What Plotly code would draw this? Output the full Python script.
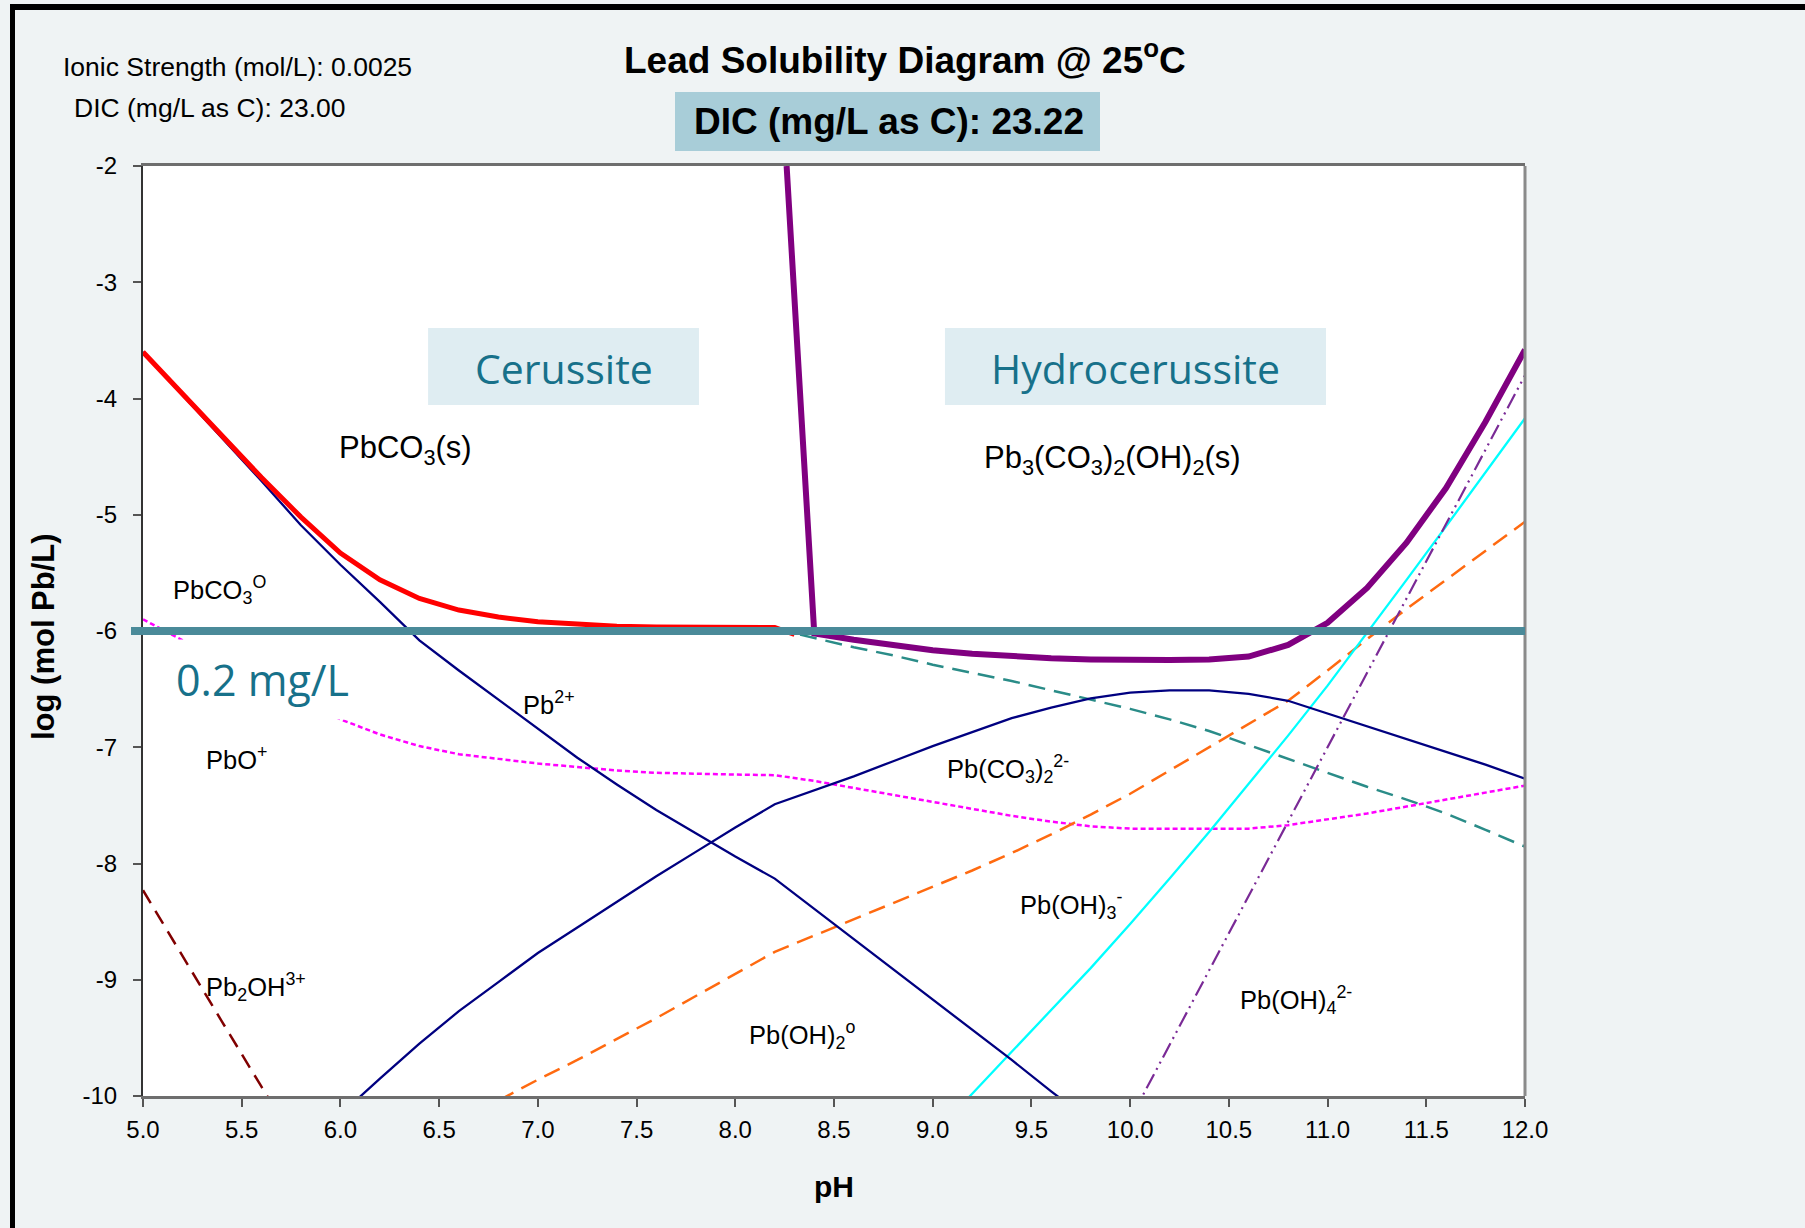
import plotly.graph_objects as go

# ---------------- data ----------------
ph_cerussite = [5.0, 5.2, 5.4, 5.6, 5.8, 6.0, 6.2, 6.4, 6.6, 6.8, 7.0, 7.2, 7.4, 7.6, 7.8, 8.0, 8.2, 8.3]
log_cerussite = [-3.60, -3.96, -4.33, -4.68, -5.02, -5.33, -5.56, -5.72, -5.82, -5.88, -5.92, -5.945,
                 -5.96, -5.965, -5.97, -5.97, -5.97, -6.03]

ph_hydrocerussite = [8.26, 8.40, 8.6, 8.8, 9.0, 9.2, 9.4, 9.6, 9.8, 10.0, 10.2, 10.4, 10.6, 10.8, 11.0,
                     11.2, 11.4, 11.6, 11.8, 12.0]
log_hydrocerussite = [-2.0, -6.02, -6.075, -6.125, -6.165, -6.195, -6.22, -6.235, -6.245, -6.25, -6.25,
                      -6.245, -6.22, -6.12, -5.93, -5.63, -5.24, -4.77, -4.20, -3.58]

ph_pb2 = [5.0, 5.2, 5.4, 5.6, 5.8, 6.0, 6.2, 6.4, 6.6, 6.8, 7.0, 7.2, 7.4, 7.6, 7.8, 8.0, 8.2, 8.4, 8.6,
          8.8, 9.0, 9.2, 9.4, 9.6, 9.8]
log_pb2 = [-3.60, -3.97, -4.34, -4.71, -5.09, -5.43, -5.75, -6.08, -6.34, -6.59, -6.84, -7.09, -7.32,
           -7.54, -7.74, -7.94, -8.13, -8.39, -8.65, -8.91, -9.17, -9.43, -9.69, -9.96, -10.22]

ph_pbco3_2 = [6.0, 6.2, 6.4, 6.6, 6.8, 7.0, 7.2, 7.4, 7.6, 7.8, 8.0, 8.2, 8.4, 8.6, 8.8, 9.0, 9.2, 9.4,
              9.6, 9.8, 10.0, 10.2, 10.4, 10.6, 10.8, 11.0, 11.2, 11.4, 11.6, 11.8, 12.0]
log_pbco3_2 = [-10.16, -9.85, -9.55, -9.27, -9.02, -8.77, -8.55, -8.33, -8.11, -7.90, -7.69, -7.49,
               -7.37, -7.25, -7.12, -6.99, -6.87, -6.75, -6.66, -6.58, -6.53, -6.51, -6.51, -6.54,
               -6.60, -6.71, -6.82, -6.93, -7.04, -7.15, -7.27]

ph_pbco3_aq = [8.2, 8.4, 8.6, 8.8, 9.0, 9.2, 9.4, 9.6, 9.8, 10.0, 10.2, 10.4, 10.6, 10.8, 11.0, 11.2,
               11.4, 11.6, 11.8, 12.0]
log_pbco3_aq = [-5.98, -6.06, -6.14, -6.21, -6.29, -6.36, -6.43, -6.51, -6.59, -6.67, -6.76, -6.86,
                -6.98, -7.10, -7.22, -7.34, -7.45, -7.57, -7.71, -7.855]

ph_pbo = [5.0, 5.2, 5.4, 5.6, 5.8, 6.0, 6.2, 6.4, 6.6, 6.8, 7.0, 7.2, 7.4, 7.6, 7.8, 8.0, 8.2, 8.4, 8.6,
          8.8, 9.0, 9.2, 9.4, 9.6, 9.8, 10.0, 10.2, 10.4, 10.6, 10.8, 11.0, 11.2, 11.4, 11.6, 11.8, 12.0]
log_pbo = [-5.90, -6.08, -6.26, -6.43, -6.60, -6.76, -6.89, -6.99, -7.06, -7.10, -7.14, -7.17, -7.20,
           -7.22, -7.23, -7.235, -7.24, -7.29, -7.35, -7.41, -7.47, -7.53, -7.59, -7.64, -7.68, -7.70,
           -7.70, -7.70, -7.70, -7.67, -7.62, -7.57, -7.51, -7.45, -7.39, -7.33]

ph_pboh2 = [6.8, 7.0, 7.2, 7.4, 7.6, 7.8, 8.0, 8.2, 8.4, 8.6, 8.8, 9.0, 9.2, 9.4, 9.6, 9.8, 10.0, 10.2,
            10.4, 10.6, 10.8, 11.0, 11.2, 11.4, 11.6, 11.8, 12.0]
log_pboh2 = [-10.04, -9.86, -9.69, -9.51, -9.33, -9.14, -8.95, -8.76, -8.62, -8.48, -8.34, -8.20, -8.06,
             -7.91, -7.75, -7.58, -7.40, -7.20, -7.00, -6.80, -6.60, -6.34, -6.07, -5.81, -5.56, -5.31,
             -5.06]

ph_pboh3 = [9.0, 9.2, 9.4, 9.6, 9.8, 10.0, 10.2, 10.4, 10.6, 10.8, 11.0, 11.2, 11.4, 11.6, 11.8, 12.0]
log_pboh3 = [-10.35, -9.98, -9.62, -9.26, -8.90, -8.52, -8.13, -7.73, -7.32, -6.90, -6.47, -6.02,
             -5.56, -5.10, -4.64, -4.17]

ph_pboh4 = [10.0, 10.2, 10.4, 10.6, 10.8, 11.0, 11.2, 11.4, 11.6, 11.8, 12.0]
log_pboh4 = [-10.20, -9.56, -8.92, -8.29, -7.65, -7.01, -6.37, -5.73, -5.09, -4.45, -3.80]

ph_pb2oh = [5.0, 5.2, 5.4, 5.6, 5.8]
log_pb2oh = [-8.23, -8.80, -9.36, -9.92, -10.48]

limit_log = -6.0          # 0.2 mg/L action line
x_ticks = [5.0, 5.5, 6.0, 6.5, 7.0, 7.5, 8.0, 8.5, 9.0, 9.5, 10.0, 10.5, 11.0, 11.5, 12.0]
x_ticktext = ["5.0", "5.5", "6.0", "6.5", "7.0", "7.5", "8.0", "8.5", "9.0", "9.5", "10.0", "10.5",
              "11.0", "11.5", "12.0"]
y_ticks = [-2, -3, -4, -5, -6, -7, -8, -9, -10]
y_ticktext = ["-2", "-3", "-4", "-5", "-6", "-7", "-8", "-9", "-10"]

# ---------------- figure ----------------
W, H = 1805, 1228
L, R, T, B = 143, 280, 166, 132
PW, PH = W - L - R, H - T - B


def px(xp):
    return (xp - L) / PW


def py(yp):
    return (H - B - yp) / PH


ARIAL = "Liberation Sans, Arial, sans-serif"
CAL = "Open Sans, Noto Sans, sans-serif"
SP = 25.5

fig = go.Figure()

series = [
    (ph_pbo, log_pbo, "#FF00FF", 2.5, "5px,3px"),
    (ph_pboh2, log_pboh2, "#FF6A10", 2.5, "17px,9px"),
    (ph_pbco3_aq, log_pbco3_aq, "#2A8C88", 2.5, "17px,9px"),
    (ph_pb2oh, log_pb2oh, "#800000", 2.5, "15px,9px"),
    (ph_pboh3, log_pboh3, "#00FFFF", 2.3, "solid"),
    (ph_pboh4, log_pboh4, "#7A2A96", 2.2, "16px,5px,2px,5px,2px,5px"),
    (ph_pbco3_2, log_pbco3_2, "#000080", 2.3, "solid"),
    (ph_pb2, log_pb2, "#000080", 2.3, "solid"),
    (ph_cerussite, log_cerussite, "#FF0000", 5, "solid"),
    (ph_hydrocerussite, log_hydrocerussite, "#800080", 6, "solid"),
]
for xs, ys, col, w, dash in series:
    fig.add_trace(go.Scatter(x=xs, y=ys, mode="lines", showlegend=False, hoverinfo="skip",
                             line=dict(color=col, width=w, dash=dash)))

shapes = [
    # slide borders
    dict(type="rect", xref="paper", yref="paper", x0=px(10), x1=px(15), y0=py(H), y1=py(4),
         fillcolor="black", line=dict(width=0), layer="above"),
    dict(type="rect", xref="paper", yref="paper", x0=px(10), x1=px(W), y0=py(10), y1=py(4),
         fillcolor="black", line=dict(width=0), layer="above"),
    # right border of plot
    dict(type="line", xref="paper", yref="paper", x0=1, x1=1, y0=0, y1=1,
         line=dict(color="#8A8A8A", width=3), layer="above"),
    # 0.2 mg/L line
    dict(type="line", xref="paper", yref="y", x0=px(131), x1=1, y0=limit_log, y1=limit_log,
         line=dict(color="#4A8A99", width=8), layer="above"),
    # mineral name boxes
    dict(type="rect", xref="x", yref="y", x0=6.444, x1=7.816, y0=-4.056, y1=-3.394,
         fillcolor="#DFEDF2", line=dict(width=0), layer="below"),
    dict(type="rect", xref="x", yref="y", x0=9.062, x1=10.992, y0=-4.056, y1=-3.394,
         fillcolor="#DFEDF2", line=dict(width=0), layer="below"),
    # DIC box
    dict(type="rect", xref="paper", yref="paper", x0=px(675), x1=px(1100), y0=py(151), y1=py(92),
         fillcolor="#A8CDD8", line=dict(width=0)),
]

annots = [
    dict(xref="paper", yref="paper", x=px(905), y=py(57), text="<b>Lead Solubility Diagram @ 25<sup>o</sup>C</b>",
         font=dict(family=ARIAL, size=37, color="black"), xanchor="center", yanchor="middle"),
    dict(xref="paper", yref="paper", x=px(889), y=py(121), text="<b>DIC (mg/L as C): 23.22</b>",
         font=dict(family=ARIAL, size=37, color="black"), xanchor="center", yanchor="middle"),
    dict(xref="paper", yref="paper", x=px(61), y=py(67), text="Ionic Strength (mol/L): 0.0025",
         font=dict(family=ARIAL, size=26.5, color="black"), xanchor="left", yanchor="middle"),
    dict(xref="paper", yref="paper", x=px(72), y=py(108), text="DIC (mg/L as C): 23.00",
         font=dict(family=ARIAL, size=26.5, color="black"), xanchor="left", yanchor="middle"),
    dict(xref="paper", yref="paper", x=px(43), y=0.4935, text="<b>log (mol Pb/L)</b>", textangle=-90,
         font=dict(family=ARIAL, size=31, color="black"), xanchor="center", yanchor="middle"),
    dict(xref="paper", yref="paper", x=0.5, y=py(1186), text="<b>pH</b>",
         font=dict(family=ARIAL, size=30, color="black"), xanchor="center", yanchor="middle"),
    # mineral names
    dict(xref="x", yref="y", x=7.13, y=-3.741, text="Cerussite",
         font=dict(family=CAL, size=41, color="#17718A"), xanchor="center", yanchor="middle"),
    dict(xref="x", yref="y", x=10.027, y=-3.741, text="Hydrocerussite",
         font=dict(family=CAL, size=41, color="#17718A"), xanchor="center", yanchor="middle"),
    dict(xref="x", yref="y", x=5.605, y=-6.42, text="0.2 mg/L", bgcolor="white", borderpad=10,
         font=dict(family=CAL, size=43, color="#17718A"), xanchor="center", yanchor="middle"),
    # solids
    dict(xref="x", yref="y", x=5.983, y=-4.44, text="PbCO<sub>3</sub>(s)",
         font=dict(family=ARIAL, size=31, color="black"), xanchor="left", yanchor="middle"),
    dict(xref="x", yref="y", x=9.25, y=-4.53, text="Pb<sub>3</sub>(CO<sub>3</sub>)<sub>2</sub>(OH)<sub>2</sub>(s)",
         font=dict(family=ARIAL, size=31, color="black"), xanchor="left", yanchor="middle"),
    # species
    dict(xref="x", yref="y", x=5.14, y=-5.65, text="PbCO<sub>3</sub><sup>O</sup>",
         font=dict(family=ARIAL, size=SP, color="black"), xanchor="left", yanchor="middle"),
    dict(xref="x", yref="y", x=5.31, y=-7.09, text="PbO<sup>+</sup>",
         font=dict(family=ARIAL, size=SP, color="black"), xanchor="left", yanchor="middle"),
    dict(xref="x", yref="y", x=6.915, y=-6.62, text="Pb<sup>2+</sup>",
         font=dict(family=ARIAL, size=SP, color="black"), xanchor="left", yanchor="middle"),
    dict(xref="x", yref="y", x=5.31, y=-9.06, text="Pb<sub>2</sub>OH<sup>3+</sup>",
         font=dict(family=ARIAL, size=SP, color="black"), xanchor="left", yanchor="middle"),
    dict(xref="x", yref="y", x=9.062, y=-7.19, text="Pb(CO<sub>3</sub>)<sub>2</sub><sup>2-</sup>",
         font=dict(family=ARIAL, size=SP, color="black"), xanchor="left", yanchor="middle"),
    dict(xref="x", yref="y", x=9.43, y=-8.36, text="Pb(OH)<sub>3</sub><sup>-</sup>",
         font=dict(family=ARIAL, size=SP, color="black"), xanchor="left", yanchor="middle"),
    dict(xref="x", yref="y", x=8.058, y=-9.475, text="Pb(OH)<sub>2</sub><sup>o</sup>",
         font=dict(family=ARIAL, size=SP, color="black"), xanchor="left", yanchor="middle"),
    dict(xref="x", yref="y", x=10.544, y=-9.17, text="Pb(OH)<sub>4</sub><sup>2-</sup>",
         font=dict(family=ARIAL, size=SP, color="black"), xanchor="left", yanchor="middle"),
]
for a in annots:
    a.setdefault("showarrow", False)

fig.update_layout(
    width=W, height=H, margin=dict(l=L, r=R, t=T, b=B, autoexpand=False),
    paper_bgcolor="#EFF3F4", plot_bgcolor="white",
    shapes=shapes, annotations=annots, showlegend=False,
    xaxis=dict(range=[5, 12], tickvals=x_ticks, ticktext=x_ticktext, ticks="outside", ticklen=8,
               tickcolor="#555", tickwidth=1.5, showgrid=False, zeroline=False, showline=True,
               linecolor="#6E6E6E", linewidth=3, mirror=True, ticklabelstandoff=2,
               tickfont=dict(family=ARIAL, size=24, color="black")),
    yaxis=dict(range=[-10, -2], tickvals=y_ticks, ticktext=y_ticktext, ticks="outside", ticklen=8,
               tickcolor="#555", tickwidth=1.5, showgrid=False, zeroline=False, showline=True,
               linecolor="#333333", linewidth=2, mirror=False, ticklabelstandoff=11,
               tickfont=dict(family=ARIAL, size=24, color="black")),
)

fig.write_html("out.html")
